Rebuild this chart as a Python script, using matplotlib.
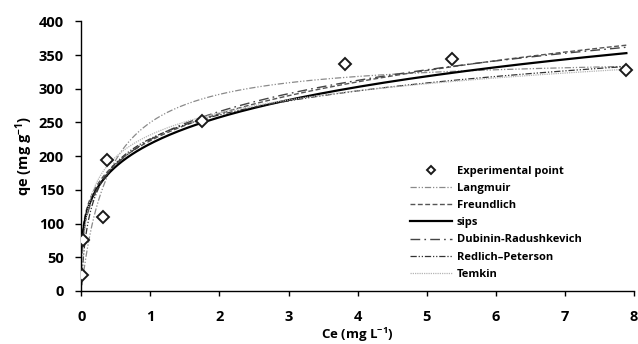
import numpy as np
import matplotlib
matplotlib.use("Agg")
import matplotlib.pyplot as plt

# ---------------- data ----------------
ce_exp = [0.005, 0.02, 0.31, 0.37, 1.75, 3.82, 5.37, 7.89]
qe_exp = [24, 75, 110, 195, 252, 336, 344, 328]

# model parameters
langmuir_qm, langmuir_K = 350.0, 2.5
freundlich_Kf, freundlich_inv_n = 223.0, 0.238
sips_qm, sips_K, sips_n = 2000.0, 0.000421, 0.27
dr_qs, dr_B, dr_M = 965.0, 0.011, 1.0e5
rp_K, rp_a, rp_g = 2485.0, 10.0, 0.85
temkin_B, temkin_A = 47.1, 136.7

labels = ["Experimental point", "Langmuir", "Freundlich", "sips",
          "Dubinin-Radushkevich", "Redlich\u2013Peterson", "Temkin"]
x_ticks = [0, 1, 2, 3, 4, 5, 6, 7, 8]
y_ticks = [0, 50, 100, 150, 200, 250, 300, 350, 400]

# ---------------- fonts ----------------
FONT = 'Open Sans'
plt.rcParams['font.family'] = [FONT, 'DejaVu Sans']
plt.rcParams['font.weight'] = 'bold'
plt.rcParams['mathtext.fontset'] = 'custom'
plt.rcParams['mathtext.rm'] = FONT + ':bold'
plt.rcParams['mathtext.bf'] = FONT + ':bold'
plt.rcParams['mathtext.it'] = FONT + ':bold'

fig = plt.figure(figsize=(6.38, 3.44), dpi=100)
ax = fig.add_axes([0.1274, 0.1541, 0.8663, 0.784])

C = np.geomspace(0.01, max(ce_exp), 500)

q_lang = langmuir_qm * langmuir_K * C / (1 + langmuir_K * C)
q_freu = freundlich_Kf * C ** freundlich_inv_n
xs = (sips_K * C) ** sips_n
q_sips = sips_qm * xs / (1 + xs)
q_dr = dr_qs * np.exp(-dr_B * np.log(1 + dr_M / C) ** 2)
q_rp = rp_K * C / (1 + rp_a * C ** rp_g)
q_tem = temkin_B * np.log(temkin_A * C)

ax.plot(ce_exp, qe_exp, linestyle='none', marker='D', ms=6.5, mfc='white',
        mec='#1a1a1a', mew=1.4, label=labels[0], zorder=5)
ax.plot(C, q_lang, color='#8a8a8a', lw=0.9, dashes=(5, 1.5, 1, 1.5, 1, 1.5), label=labels[1])
ax.plot(C, q_freu, color='#555555', lw=1.0, dashes=(3.5, 1.8), label=labels[2])
ax.plot(C, q_sips, color='#000000', lw=1.6, label=labels[3])
ax.plot(C, q_dr, color='#444444', lw=1.0, dashes=(7, 3, 1.2, 3), label=labels[4])
ax.plot(C, q_rp, color='#333333', lw=0.9, dashes=(5, 1.5, 1, 1.5, 1, 1.5), label=labels[5])
ax.plot(C, q_tem, color='#b5b5b5', lw=0.9, dashes=(1, 0.8), label=labels[6])

ax.set_xlim(0, 8)
ax.set_ylim(0, 400)
ax.set_xticks(x_ticks)
ax.set_yticks(y_ticks)
ax.spines['top'].set_visible(False)
ax.spines['right'].set_visible(False)
for s in ('left', 'bottom'):
    ax.spines[s].set_linewidth(1.0)
    ax.spines[s].set_color('black')
ax.tick_params(axis='y', direction='out', length=4.5, width=1.0, pad=8, labelsize=10.5)
ax.tick_params(axis='x', direction='out', length=3.5, width=1.0, pad=10, labelsize=10.5)
for t in ax.get_xticklabels() + ax.get_yticklabels():
    t.set_fontweight('bold')

ax.set_ylabel(r'qe (mg g$^{-1}$)', fontsize=10.5, fontweight='bold')
ax.yaxis.set_label_coords(-0.083, 0.5)
ax.set_xlabel(r'Ce (mg L$^{-1}$)', fontsize=9.5, fontweight='bold')
ax.xaxis.set_label_coords(0.5, -0.128)

leg = ax.legend(loc='upper left', bbox_to_anchor=(410 / 638, 1 - 166 / 344),
                bbox_transform=fig.transFigure, frameon=False,
                handlelength=3.8, handletextpad=0.4, labelspacing=0.55,
                borderpad=0, borderaxespad=0, numpoints=1, markerscale=0.7,
                prop={'family': [FONT, 'DejaVu Sans'], 'weight': 'bold', 'size': 8})

fig.savefig('out.png', dpi=100)
